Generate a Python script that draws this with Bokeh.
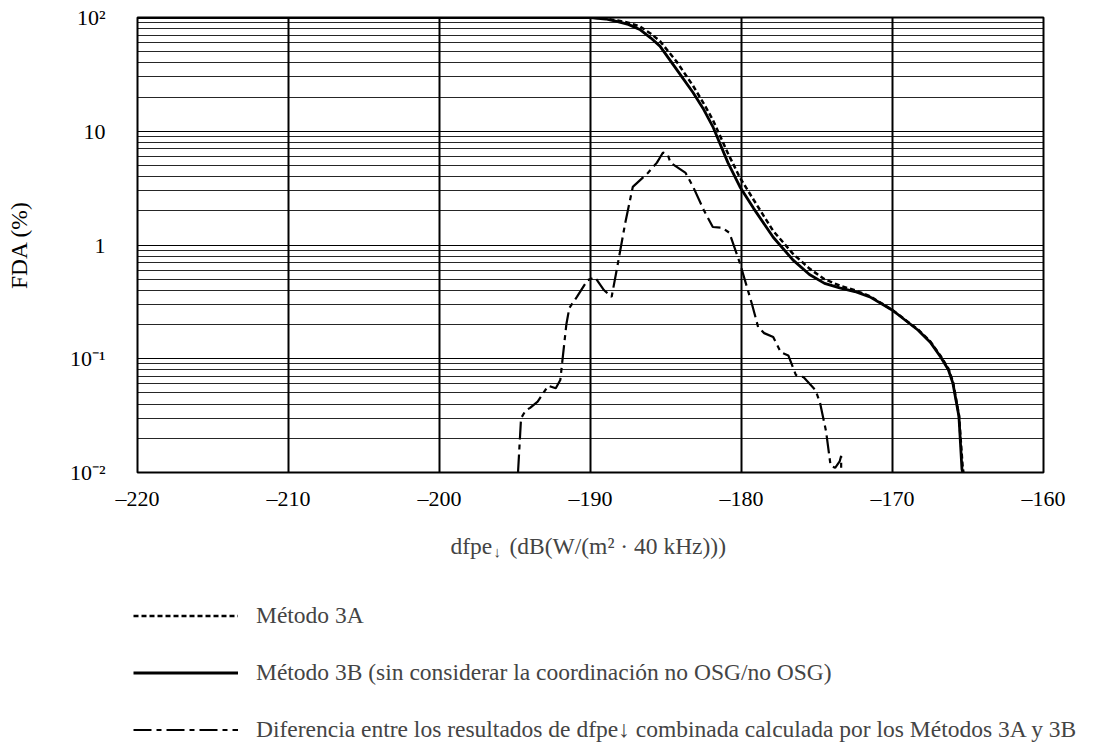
from bokeh.plotting import figure
from bokeh.layouts import column
from bokeh.models import FixedTicker, Legend, LegendItem, Label, Range1d
from bokeh.embed import file_html
from bokeh.resources import INLINE

# ---- data ----
x_3a = [-220, -190, -189, -188.2, -187.5, -186.7, -186.0, -185.4, -184.3, -183.2, -182.5, -181.9,
        -180.9, -180.1, -179.2, -177.9, -176.6, -175.5, -174.5, -173.5, -172.5, -171.5, -170.0,
        -168.3, -167.5, -166.8, -166.3, -166.0, -165.6, -165.35, -165.3]
y_3a = [100, 100, 98, 94, 90, 83, 72, 62, 41, 25, 17.5, 12.6,
        6.4, 3.9, 2.5, 1.33, 0.84, 0.62, 0.50, 0.44, 0.40, 0.355, 0.268,
        0.18, 0.142, 0.105, 0.082, 0.063, 0.032, 0.011, 0.01]

x_3b = [-220, -190, -189, -188.2, -187.5, -186.7, -186.0, -185.4, -184.3, -183.2, -182.5, -181.9,
        -180.9, -180.1, -179.2, -177.9, -176.6, -175.5, -174.5, -173.5, -172.5, -171.5, -170.0,
        -168.3, -167.5, -166.8, -166.3, -166.0, -165.6, -165.4, -165.35]
y_3b = [100, 100, 97, 92, 87, 78, 66, 56, 35, 21.8, 15.5, 11,
        5.3, 3.24, 2.1, 1.17, 0.74, 0.55, 0.46, 0.42, 0.39, 0.35, 0.267,
        0.178, 0.14, 0.103, 0.08, 0.061, 0.031, 0.0107, 0.01]

x_diff = [-194.8, -194.6, -194.3, -194.0, -193.5, -192.8, -192.3, -192.0, -191.6, -191.4, -190.9,
          -190.2, -189.7, -189.1, -188.6, -188.3, -187.7, -187.2, -186.2, -185.6, -185.2, -184.9,
          -184.7, -183.7, -183.2, -182.5, -181.9, -181.3, -180.8, -180.1, -179.3, -178.9, -178.5,
          -177.9, -177.4, -176.9, -176.4, -175.9, -175.1, -174.8, -174.4, -174.1, -173.8, -173.5,
          -173.4, -173.4]
y_diff = [0.01, 0.03, 0.035, 0.037, 0.042, 0.058, 0.055, 0.065, 0.2, 0.28, 0.35,
          0.49, 0.52, 0.40, 0.35, 0.57, 1.56, 3.24, 4.3, 5.3, 6.5, 6.3,
          5.3, 4.3, 3.24, 2.03, 1.44, 1.42, 1.28, 0.69, 0.3, 0.19, 0.168,
          0.155, 0.114, 0.107, 0.072, 0.069, 0.053, 0.041, 0.023, 0.0115, 0.011, 0.0125,
          0.014, 0.01]

x_ticks = [-220, -210, -200, -190, -180, -170, -160]
x_tick_labels = ["–220", "–210", "–200", "–190", "–180", "–170", "–160"]
y_ticks = [0.01, 0.1, 1, 10, 100]
y_tick_labels = ["10⁻²", "10⁻¹", "1", "10", "10²"]

labels = ["Método 3A",
          "Método 3B (sin considerar la coordinación no OSG/no OSG)",
          "Diferencia entre los resultados de dfpe↓ combinada calculada por los Métodos 3A y 3B"]

FONT = "Liberation Serif"

STYLE_3A = dict(line_color="black", line_width=2.5, line_dash="5 3")
STYLE_3B = dict(line_color="black", line_width=2.8)
STYLE_D = dict(line_color="black", line_width=2.2, line_dash="18 5 5 5")

# ---------------- main chart ----------------
p = figure(width=1101, height=515, x_range=Range1d(-220, -160), y_range=Range1d(0.01, 100),
           y_axis_type="log", output_backend="svg", toolbar_location=None,
           min_border_left=137, min_border_right=58, min_border_top=17, min_border_bottom=43)
p.frame_align = False

p.background_fill_color = "white"
p.border_fill_color = "white"
p.outline_line_color = "black"
p.outline_line_width = 2

p.xaxis.ticker = FixedTicker(ticks=x_ticks)
p.xaxis.major_label_overrides = {t: l for t, l in zip(x_ticks, x_tick_labels)}
minor = [k * 10.0 ** e for e in range(-2, 2) for k in range(2, 10)]
p.yaxis.ticker = FixedTicker(ticks=y_ticks, minor_ticks=minor)
p.yaxis.major_label_overrides = {t: l for t, l in zip(y_ticks, y_tick_labels)}
for ax in (p.xaxis[0], p.yaxis[0]):
    ax.axis_line_color = None
    ax.major_tick_line_color = None
    ax.minor_tick_line_color = None
    ax.major_label_text_font = FONT
    ax.major_label_text_font_size = "22px"
    ax.major_label_text_color = "black"
p.xaxis.major_label_standoff = 7
p.yaxis.major_label_standoff = 26
p.yaxis.axis_label = "FDA (%)"
p.yaxis.axis_label_text_font = FONT
p.yaxis.axis_label_text_font_size = "23.5px"
p.yaxis.axis_label_text_font_style = "normal"
p.yaxis.axis_label_text_color = "black"
p.yaxis.axis_label_standoff = 35

p.xgrid.ticker = FixedTicker(ticks=[-210, -200, -190, -180, -170])
p.xgrid.grid_line_color = "black"
p.xgrid.grid_line_width = 2
p.ygrid.grid_line_color = "black"
p.ygrid.grid_line_width = 1
p.ygrid.minor_grid_line_color = "black"
p.ygrid.minor_grid_line_width = 1
p.ygrid.minor_grid_line_alpha = 0.85

p.line(x_3b, y_3b, **STYLE_3B)
p.line(x_3a, y_3a, **STYLE_3A)
p.line(x_diff, y_diff, **STYLE_D)

# ---------------- lower panel: axis title and legend ----------------
q = figure(width=1101, height=230, x_range=Range1d(0, 1101), y_range=Range1d(745, 515),
           output_backend="svg", toolbar_location=None,
           min_border_left=0, min_border_right=0, min_border_top=0, min_border_bottom=0,
           x_axis_location=None, y_axis_location=None)
q.frame_align = False
q.grid.visible = False
q.outline_line_color = None
q.background_fill_color = "white"
q.border_fill_color = "white"

q.add_layout(Label(x=450, y=545, text="dfpe", text_font=FONT, text_font_size="23.5px",
                   text_baseline="alphabetic"))
q.add_layout(Label(x=493, y=551, text="↓", text_font=FONT, text_font_size="15px",
                   text_baseline="alphabetic"))
q.add_layout(Label(x=509, y=545, text="(dB(W/(m² · 40 kHz)))", text_font=FONT,
                   text_font_size="23.5px", text_baseline="alphabetic"))

# legend sample renderers: same series, outside this panel's visible range,
# they only supply the legend glyph styles
l3a = q.line(x_3a, y_3a, **STYLE_3A)
l3b = q.line(x_3b, y_3b, **STYLE_3B)
ld = q.line(x_diff, y_diff, **STYLE_D)

legend = Legend(items=[LegendItem(label=labels[0], renderers=[l3a]),
                       LegendItem(label=labels[1], renderers=[l3b]),
                       LegendItem(label=labels[2], renderers=[ld])],
                location=(133, 2), orientation="vertical",
                glyph_width=105, glyph_height=27, label_height=27,
                label_text_font=FONT, label_text_font_size="23.5px",
                label_standoff=18, spacing=30, padding=0, margin=0,
                border_line_alpha=0, background_fill_alpha=0)
q.add_layout(legend, "center")

open("out.html", "w").write(file_html(column(p, q, spacing=0), INLINE))
